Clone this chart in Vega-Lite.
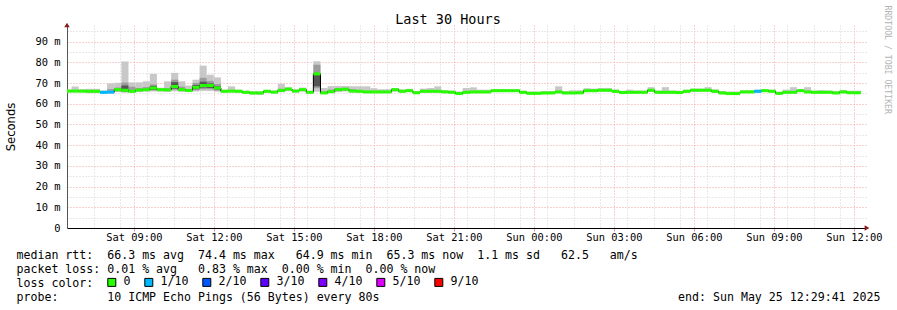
{
"$schema":"https://vega.github.io/schema/vega-lite/v6.json",
"width":800,"height":203,"autosize":"none",
"padding":{"left":67,"top":25,"right":30,"bottom":82},
"background":"#ffffff",
"title":{"text":"Last 30 Hours","font":"DejaVu Sans Mono","fontSize":13.5,"fontWeight":"normal","color":"#000000","anchor":"middle","baseline":"alphabetic","offset":-32,"dx":-19},
"datasets":{"ping":[
{"t":"2025-05-24T06:24Z","t2":"2025-05-24T06:40Z","m":66.1,"lo":65.4,"hi":66.9,"l":"0"},
{"t":"2025-05-24T06:40Z","t2":"2025-05-24T06:56Z","m":66.1,"lo":65.5,"hi":68.3,"l":"0"},
{"t":"2025-05-24T06:56Z","t2":"2025-05-24T07:12Z","m":66.1,"lo":65.4,"hi":67.0,"l":"0"},
{"t":"2025-05-24T07:12Z","t2":"2025-05-24T07:28Z","m":66.0,"lo":65.1,"hi":67.2,"a":65.5,"b":66.6,"l":"0"},
{"t":"2025-05-24T07:28Z","t2":"2025-05-24T07:44Z","m":66.0,"lo":65.1,"hi":67.2,"a":65.5,"b":66.6,"l":"0"},
{"t":"2025-05-24T07:44Z","t2":"2025-05-24T08:00Z","m":65.5,"lo":64.8,"hi":66.4,"l":"1/10"},
{"t":"2025-05-24T08:00Z","t2":"2025-05-24T08:16Z","m":65.6,"lo":64.9,"hi":69.8,"a":65.3,"b":67.0,"l":"1/10"},
{"t":"2025-05-24T08:16Z","t2":"2025-05-24T08:32Z","m":66.8,"lo":65.6,"hi":70.1,"a":66.0,"b":67.8,"l":"0"},
{"t":"2025-05-24T08:32Z","t2":"2025-05-24T08:48Z","m":66.5,"lo":65.3,"hi":80.4,"a":65.8,"b":70.2,"c":66.0,"d":68.8,"l":"0"},
{"t":"2025-05-24T08:48Z","t2":"2025-05-24T09:04Z","m":66.0,"lo":65.3,"hi":70.3,"a":65.6,"b":68.2,"l":"0"},
{"t":"2025-05-24T09:04Z","t2":"2025-05-24T09:20Z","m":66.6,"lo":65.6,"hi":70.3,"a":66.0,"b":67.6,"l":"0"},
{"t":"2025-05-24T09:20Z","t2":"2025-05-24T09:36Z","m":66.8,"lo":65.8,"hi":70.8,"a":66.2,"b":68.0,"l":"0"},
{"t":"2025-05-24T09:36Z","t2":"2025-05-24T09:52Z","m":67.6,"lo":65.9,"hi":74.4,"a":66.4,"b":69.3,"c":66.8,"d":68.6,"l":"0"},
{"t":"2025-05-24T09:52Z","t2":"2025-05-24T10:08Z","m":66.8,"lo":65.8,"hi":67.7,"l":"0"},
{"t":"2025-05-24T10:08Z","t2":"2025-05-24T10:24Z","m":66.7,"lo":65.7,"hi":70.8,"a":66.2,"b":67.6,"l":"0"},
{"t":"2025-05-24T10:24Z","t2":"2025-05-24T10:40Z","m":68.3,"lo":66.0,"hi":74.9,"a":66.8,"b":71.6,"c":67.3,"d":70.4,"l":"0"},
{"t":"2025-05-24T10:40Z","t2":"2025-05-24T10:56Z","m":66.8,"lo":65.7,"hi":70.8,"a":66.2,"b":68.2,"l":"0"},
{"t":"2025-05-24T10:56Z","t2":"2025-05-24T11:12Z","m":66.4,"lo":65.6,"hi":68.8,"l":"0"},
{"t":"2025-05-24T11:12Z","t2":"2025-05-24T11:28Z","m":67.9,"lo":65.9,"hi":71.6,"a":66.5,"b":70.0,"c":67.0,"d":69.0,"l":"0"},
{"t":"2025-05-24T11:28Z","t2":"2025-05-24T11:44Z","m":68.8,"lo":66.2,"hi":78.4,"a":67.0,"b":72.5,"c":67.8,"d":70.6,"l":"0"},
{"t":"2025-05-24T11:44Z","t2":"2025-05-24T12:00Z","m":68.8,"lo":66.1,"hi":74.0,"a":67.0,"b":71.0,"c":67.6,"d":69.8,"l":"0"},
{"t":"2025-05-24T12:00Z","t2":"2025-05-24T12:16Z","m":67.6,"lo":65.8,"hi":72.7,"a":66.4,"b":69.5,"c":66.8,"d":68.4,"l":"0"},
{"t":"2025-05-24T12:16Z","t2":"2025-05-24T12:32Z","m":66.0,"lo":65.4,"hi":66.8,"l":"0"},
{"t":"2025-05-24T12:32Z","t2":"2025-05-24T12:48Z","m":66.1,"lo":65.4,"hi":68.4,"l":"0"},
{"t":"2025-05-24T12:48Z","t2":"2025-05-24T13:04Z","m":66.0,"lo":65.3,"hi":66.8,"l":"0"},
{"t":"2025-05-24T13:04Z","t2":"2025-05-24T13:20Z","m":65.5,"lo":64.9,"hi":66.3,"l":"0"},
{"t":"2025-05-24T13:20Z","t2":"2025-05-24T13:36Z","m":65.2,"lo":64.4,"hi":66.0,"l":"0"},
{"t":"2025-05-24T13:36Z","t2":"2025-05-24T13:52Z","m":65.2,"lo":64.2,"hi":66.0,"l":"0"},
{"t":"2025-05-24T13:52Z","t2":"2025-05-24T14:08Z","m":66.0,"lo":65.2,"hi":66.7,"l":"0"},
{"t":"2025-05-24T14:08Z","t2":"2025-05-24T14:24Z","m":65.6,"lo":64.9,"hi":66.4,"l":"0"},
{"t":"2025-05-24T14:24Z","t2":"2025-05-24T14:40Z","m":66.4,"lo":65.5,"hi":69.6,"a":65.9,"b":67.2,"l":"0"},
{"t":"2025-05-24T14:40Z","t2":"2025-05-24T14:56Z","m":67.1,"lo":66.0,"hi":67.9,"l":"0"},
{"t":"2025-05-24T14:56Z","t2":"2025-05-24T15:12Z","m":66.1,"lo":65.4,"hi":66.9,"l":"0"},
{"t":"2025-05-24T15:12Z","t2":"2025-05-24T15:28Z","m":66.8,"lo":65.8,"hi":67.8,"l":"0"},
{"t":"2025-05-24T15:28Z","t2":"2025-05-24T15:44Z","m":65.5,"lo":64.9,"hi":66.3,"l":"0"},
{"t":"2025-05-24T15:44Z","t2":"2025-05-24T16:00Z","m":74.4,"lo":65.8,"hi":80.5,"a":67.5,"b":78.8,"c":68.4,"d":74.2,"l":"0"},
{"t":"2025-05-24T16:00Z","t2":"2025-05-24T16:16Z","m":65.2,"lo":64.7,"hi":67.6,"a":65.0,"b":66.0,"l":"0"},
{"t":"2025-05-24T16:16Z","t2":"2025-05-24T16:32Z","m":65.8,"lo":65.2,"hi":68.5,"a":65.5,"b":66.8,"l":"0"},
{"t":"2025-05-24T16:32Z","t2":"2025-05-24T16:48Z","m":66.8,"lo":65.6,"hi":68.6,"a":66.1,"b":67.5,"l":"0"},
{"t":"2025-05-24T16:48Z","t2":"2025-05-24T17:04Z","m":67.0,"lo":65.9,"hi":68.5,"a":66.4,"b":67.7,"l":"0"},
{"t":"2025-05-24T17:04Z","t2":"2025-05-24T17:20Z","m":66.1,"lo":65.4,"hi":68.4,"a":65.8,"b":67.0,"l":"0"},
{"t":"2025-05-24T17:20Z","t2":"2025-05-24T17:36Z","m":66.0,"lo":65.4,"hi":68.4,"l":"0"},
{"t":"2025-05-24T17:36Z","t2":"2025-05-24T17:52Z","m":65.7,"lo":65.1,"hi":68.4,"l":"0"},
{"t":"2025-05-24T17:52Z","t2":"2025-05-24T18:08Z","m":65.7,"lo":65.1,"hi":67.5,"l":"0"},
{"t":"2025-05-24T18:08Z","t2":"2025-05-24T18:24Z","m":65.7,"lo":65.1,"hi":67.0,"l":"0"},
{"t":"2025-05-24T18:24Z","t2":"2025-05-24T18:40Z","m":65.7,"lo":65.1,"hi":67.0,"l":"0"},
{"t":"2025-05-24T18:40Z","t2":"2025-05-24T18:56Z","m":66.8,"lo":65.8,"hi":67.5,"l":"0"},
{"t":"2025-05-24T18:56Z","t2":"2025-05-24T19:12Z","m":66.0,"lo":65.4,"hi":66.9,"l":"0"},
{"t":"2025-05-24T19:12Z","t2":"2025-05-24T19:28Z","m":66.3,"lo":65.6,"hi":67.2,"l":"0"},
{"t":"2025-05-24T19:28Z","t2":"2025-05-24T19:44Z","m":65.3,"lo":64.7,"hi":66.2,"l":"0"},
{"t":"2025-05-24T19:44Z","t2":"2025-05-24T20:00Z","m":66.0,"lo":65.3,"hi":67.3,"l":"0"},
{"t":"2025-05-24T20:00Z","t2":"2025-05-24T20:16Z","m":66.0,"lo":65.3,"hi":67.6,"l":"0"},
{"t":"2025-05-24T20:16Z","t2":"2025-05-24T20:32Z","m":66.0,"lo":65.3,"hi":68.4,"l":"0"},
{"t":"2025-05-24T20:32Z","t2":"2025-05-24T20:48Z","m":65.7,"lo":65.1,"hi":66.6,"l":"0"},
{"t":"2025-05-24T20:48Z","t2":"2025-05-24T21:04Z","m":65.5,"lo":64.9,"hi":66.4,"l":"0"},
{"t":"2025-05-24T21:04Z","t2":"2025-05-24T21:20Z","m":64.9,"lo":64.3,"hi":65.9,"l":"0"},
{"t":"2025-05-24T21:20Z","t2":"2025-05-24T21:36Z","m":65.5,"lo":64.9,"hi":67.6,"l":"0"},
{"t":"2025-05-24T21:36Z","t2":"2025-05-24T21:52Z","m":65.7,"lo":65.1,"hi":67.9,"l":"0"},
{"t":"2025-05-24T21:52Z","t2":"2025-05-24T22:08Z","m":65.7,"lo":65.1,"hi":66.8,"l":"0"},
{"t":"2025-05-24T22:08Z","t2":"2025-05-24T22:24Z","m":65.7,"lo":65.1,"hi":66.8,"l":"0"},
{"t":"2025-05-24T22:24Z","t2":"2025-05-24T22:40Z","m":66.3,"lo":65.6,"hi":67.1,"l":"0"},
{"t":"2025-05-24T22:40Z","t2":"2025-05-24T22:56Z","m":66.3,"lo":65.6,"hi":67.1,"l":"0"},
{"t":"2025-05-24T22:56Z","t2":"2025-05-24T23:12Z","m":66.3,"lo":65.6,"hi":67.0,"l":"0"},
{"t":"2025-05-24T23:12Z","t2":"2025-05-24T23:28Z","m":66.3,"lo":65.6,"hi":67.0,"l":"0"},
{"t":"2025-05-24T23:28Z","t2":"2025-05-24T23:44Z","m":65.5,"lo":64.9,"hi":66.3,"l":"0"},
{"t":"2025-05-24T23:44Z","t2":"2025-05-25T00:00Z","m":65.0,"lo":64.3,"hi":65.9,"l":"0"},
{"t":"2025-05-25T00:00Z","t2":"2025-05-25T00:16Z","m":65.0,"lo":64.4,"hi":65.9,"l":"0"},
{"t":"2025-05-25T00:16Z","t2":"2025-05-25T00:32Z","m":65.2,"lo":64.6,"hi":66.1,"l":"0"},
{"t":"2025-05-25T00:32Z","t2":"2025-05-25T00:48Z","m":65.2,"lo":64.6,"hi":66.1,"l":"0"},
{"t":"2025-05-25T00:48Z","t2":"2025-05-25T01:04Z","m":65.7,"lo":65.0,"hi":68.4,"l":"0"},
{"t":"2025-05-25T01:04Z","t2":"2025-05-25T01:20Z","m":65.2,"lo":64.6,"hi":66.1,"l":"0"},
{"t":"2025-05-25T01:20Z","t2":"2025-05-25T01:36Z","m":65.2,"lo":64.6,"hi":66.5,"l":"0"},
{"t":"2025-05-25T01:36Z","t2":"2025-05-25T01:52Z","m":65.3,"lo":64.6,"hi":66.5,"l":"0"},
{"t":"2025-05-25T01:52Z","t2":"2025-05-25T02:08Z","m":66.3,"lo":65.6,"hi":67.5,"l":"0"},
{"t":"2025-05-25T02:08Z","t2":"2025-05-25T02:24Z","m":66.3,"lo":65.6,"hi":67.3,"l":"0"},
{"t":"2025-05-25T02:24Z","t2":"2025-05-25T02:40Z","m":66.5,"lo":65.7,"hi":67.6,"l":"0"},
{"t":"2025-05-25T02:40Z","t2":"2025-05-25T02:56Z","m":66.5,"lo":65.7,"hi":67.6,"l":"0"},
{"t":"2025-05-25T02:56Z","t2":"2025-05-25T03:12Z","m":66.0,"lo":65.3,"hi":66.8,"l":"0"},
{"t":"2025-05-25T03:12Z","t2":"2025-05-25T03:28Z","m":65.4,"lo":64.8,"hi":66.3,"l":"0"},
{"t":"2025-05-25T03:28Z","t2":"2025-05-25T03:44Z","m":65.5,"lo":64.9,"hi":66.8,"l":"0"},
{"t":"2025-05-25T03:44Z","t2":"2025-05-25T04:00Z","m":65.5,"lo":64.9,"hi":66.4,"l":"0"},
{"t":"2025-05-25T04:00Z","t2":"2025-05-25T04:16Z","m":65.5,"lo":64.9,"hi":66.4,"l":"0"},
{"t":"2025-05-25T04:16Z","t2":"2025-05-25T04:32Z","m":66.5,"lo":65.7,"hi":68.0,"l":"0"},
{"t":"2025-05-25T04:32Z","t2":"2025-05-25T04:48Z","m":65.5,"lo":64.9,"hi":66.4,"l":"0"},
{"t":"2025-05-25T04:48Z","t2":"2025-05-25T05:04Z","m":65.5,"lo":64.9,"hi":68.0,"l":"0"},
{"t":"2025-05-25T05:04Z","t2":"2025-05-25T05:20Z","m":65.5,"lo":64.9,"hi":66.4,"l":"0"},
{"t":"2025-05-25T05:20Z","t2":"2025-05-25T05:36Z","m":65.4,"lo":64.8,"hi":66.3,"l":"0"},
{"t":"2025-05-25T05:36Z","t2":"2025-05-25T05:52Z","m":66.0,"lo":65.3,"hi":66.8,"l":"0"},
{"t":"2025-05-25T05:52Z","t2":"2025-05-25T06:08Z","m":66.5,"lo":65.8,"hi":67.3,"l":"0"},
{"t":"2025-05-25T06:08Z","t2":"2025-05-25T06:24Z","m":66.5,"lo":65.8,"hi":67.3,"l":"0"},
{"t":"2025-05-25T06:24Z","t2":"2025-05-25T06:40Z","m":66.5,"lo":65.8,"hi":68.0,"l":"0"},
{"t":"2025-05-25T06:40Z","t2":"2025-05-25T06:56Z","m":66.0,"lo":65.3,"hi":66.9,"l":"0"},
{"t":"2025-05-25T06:56Z","t2":"2025-05-25T07:12Z","m":65.2,"lo":64.6,"hi":66.2,"l":"0"},
{"t":"2025-05-25T07:12Z","t2":"2025-05-25T07:28Z","m":64.9,"lo":64.2,"hi":65.9,"l":"0"},
{"t":"2025-05-25T07:28Z","t2":"2025-05-25T07:44Z","m":64.9,"lo":64.3,"hi":65.9,"l":"0"},
{"t":"2025-05-25T07:44Z","t2":"2025-05-25T08:00Z","m":65.7,"lo":65.1,"hi":66.5,"l":"0"},
{"t":"2025-05-25T08:00Z","t2":"2025-05-25T08:16Z","m":65.7,"lo":65.1,"hi":66.5,"l":"0"},
{"t":"2025-05-25T08:16Z","t2":"2025-05-25T08:32Z","m":66.0,"lo":65.3,"hi":66.8,"l":"1/10"},
{"t":"2025-05-25T08:32Z","t2":"2025-05-25T08:48Z","m":66.3,"lo":65.6,"hi":67.1,"l":"0"},
{"t":"2025-05-25T08:48Z","t2":"2025-05-25T09:04Z","m":66.0,"lo":65.4,"hi":66.8,"l":"0"},
{"t":"2025-05-25T09:04Z","t2":"2025-05-25T09:20Z","m":65.0,"lo":64.4,"hi":65.8,"l":"0"},
{"t":"2025-05-25T09:20Z","t2":"2025-05-25T09:36Z","m":65.5,"lo":64.9,"hi":66.8,"l":"0"},
{"t":"2025-05-25T09:36Z","t2":"2025-05-25T09:52Z","m":65.5,"lo":64.9,"hi":68.0,"l":"0"},
{"t":"2025-05-25T09:52Z","t2":"2025-05-25T10:08Z","m":66.3,"lo":65.6,"hi":67.1,"l":"0"},
{"t":"2025-05-25T10:08Z","t2":"2025-05-25T10:24Z","m":65.7,"lo":65.1,"hi":68.0,"l":"0"},
{"t":"2025-05-25T10:24Z","t2":"2025-05-25T10:40Z","m":65.5,"lo":64.9,"hi":66.4,"l":"0"},
{"t":"2025-05-25T10:40Z","t2":"2025-05-25T10:56Z","m":65.5,"lo":64.9,"hi":66.6,"l":"0"},
{"t":"2025-05-25T10:56Z","t2":"2025-05-25T11:12Z","m":65.5,"lo":64.9,"hi":66.4,"l":"0"},
{"t":"2025-05-25T11:12Z","t2":"2025-05-25T11:28Z","m":65.2,"lo":64.6,"hi":66.1,"l":"0"},
{"t":"2025-05-25T11:28Z","t2":"2025-05-25T11:44Z","m":65.7,"lo":65.1,"hi":66.6,"l":"0"},
{"t":"2025-05-25T11:44Z","t2":"2025-05-25T12:00Z","m":65.3,"lo":64.7,"hi":66.3,"l":"0"},
{"t":"2025-05-25T12:00Z","t2":"2025-05-25T12:16Z","m":65.3,"lo":64.7,"hi":66.3,"l":"0"}
]},
"data":{"name":"ping"},
"resolve":{"axis":{"x":"independent","y":"independent"}},
"layer":[
{"mark":{"type":"rect","color":"#c8c8c8","clip":true},
 "encoding":{
  "x":{"field":"t","type":"temporal",
   "scale":{"type":"utc","nice":false,"domain":[{"year":2025,"month":5,"date":24,"hours":6,"minutes":29,"seconds":41,"utc":true},{"year":2025,"month":5,"date":25,"hours":12,"minutes":29,"seconds":41,"utc":true}]},
   "axis":{"orient":"bottom","grid":true,"gridColor":"#d2d2d2","gridDash":[1,2],"gridWidth":1,
    "values":[1748068200000,1748071800000,1748075400000,1748079000000,1748082600000,1748086200000,1748089800000,1748093400000,1748097000000,1748100600000,1748104200000,1748107800000,1748111400000,1748115000000,1748118600000,1748122200000,1748125800000,1748129400000,1748133000000,1748136600000,1748140200000,1748143800000,1748147400000,1748151000000,1748154600000,1748158200000,1748161800000,1748165400000,1748169000000,1748172600000],
    "labels":false,"ticks":false,"domain":false,
    "title":"end: Sun May 25 12:29:41 2025","titleX":813,"titleY":72.6,"titleAlign":"right","titleAnchor":"end","titleBaseline":"alphabetic","titleFont":"DejaVu Sans Mono","titleFontSize":11.6,"titleFontWeight":"normal","titleColor":"#000000"}},
  "x2":{"field":"t2"},
  "y":{"field":"lo","type":"quantitative","scale":{"domain":[0,98],"nice":false,"zero":true},
   "axis":{"orient":"left","grid":true,"gridColor":"#d2d2d2","gridDash":[1,2],"gridWidth":1,"values":[5,15,25,35,45,55,65,75,85,95],"labels":false,"ticks":false,"domain":false,"title":null}},
  "y2":{"field":"hi"}}},
{"mark":{"type":"rect","color":"#9c9c9c","clip":true},
 "encoding":{
  "x":{"field":"t","type":"temporal",
   "axis":{"orient":"bottom","grid":true,"gridColor":"#f0a0a0","gridDash":[1,2],"gridWidth":1,"tickCount":"hour","labels":false,"ticks":true,"tickColor":"#e89090","tickSize":3,"domain":false,"title":null}},
  "x2":{"field":"t2"},
  "y":{"field":"a","type":"quantitative",
   "axis":{"orient":"left","grid":true,"gridColor":"#f0a0a0","gridDash":[1,2],"gridWidth":1,"values":[10,20,30,40,50,60,70,80,90],"labels":false,"ticks":false,"domain":false,"title":null}},
  "y2":{"field":"b"}}},
{"mark":{"type":"rect","color":"#555555","clip":true},
 "encoding":{
  "x":{"field":"t","type":"temporal","axis":null},
  "x2":{"field":"t2"},
  "y":{"field":"c","type":"quantitative","axis":null},
  "y2":{"field":"d"}}},
{"mark":{"type":"line","interpolate":"step-after","color":"#000000","strokeWidth":1,"clip":true},
 "encoding":{
  "x":{"field":"t","type":"temporal","axis":null},
  "y":{"field":"m","type":"quantitative","axis":null}}},
{"mark":{"type":"rule","strokeWidth":3,"clip":true},
 "encoding":{
  "x":{"field":"t","type":"temporal",
   "axis":{"orient":"bottom","grid":false,
    "values":[1748077200000,1748088000000,1748098800000,1748109600000,1748120400000,1748131200000,1748142000000,1748152800000,1748163600000,1748174400000],
    "labelExpr":"utcFormat(datum.value, '%a %H:%M')","labelFlush":false,"labelOverlap":false,"ticks":false,"labelPadding":4,"domain":true,"domainColor":"#000000","domainWidth":1,
    "title":["median rtt:\u00a0\u00a066.3 ms avg\u00a0\u00a074.4 ms max\u00a0\u00a0\u00a064.9 ms min\u00a0\u00a065.3 ms now\u00a0\u00a01.1 ms sd\u00a0\u00a0\u00a062.5\u00a0\u00a0\u00a0am/s","packet loss: 0.01 % avg\u00a0\u00a0\u00a00.83 % max\u00a0\u00a00.00 % min\u00a0\u00a00.00 % now","loss color:","probe:\u00a0\u00a0\u00a0\u00a0\u00a0\u00a0\u00a010 ICMP Echo Pings (56 Bytes) every 80s"],
    "titleX":-51,"titleY":30.6,"titleAlign":"left","titleAnchor":"start","titleBaseline":"alphabetic","titleLineHeight":14,"titleFont":"DejaVu Sans Mono","titleFontSize":11.6,"titleFontWeight":"normal","titleColor":"#000000"}},
  "x2":{"field":"t2"},
  "y":{"field":"m","type":"quantitative",
   "axis":{"orient":"left","grid":false,"values":[0,10,20,30,40,50,60,70,80,90],"labelExpr":"datum.value == 0 ? '0' : datum.value + ' m'","ticks":false,"labelPadding":7,"domain":true,"domainColor":"#555555",
    "title":"Seconds","titleX":-56,"titleY":101.5,"titleAngle":-90,"titleAlign":"center","titleBaseline":"middle","titleFont":"DejaVu Sans","titleFontSize":11.6,"titleFontWeight":"normal","titleColor":"#000000"}},
  "stroke":{"field":"l","type":"nominal",
   "scale":{"domain":["0","1/10"],"range":["#26ff00","#00b8ff"]},
   "legend":null}}},
{"mark":{"type":"rect","clip":true,"opacity":1},
 "encoding":{
  "x":{"field":"t","type":"temporal","axis":null},
  "x2":{"field":"t2"},
  "y":{"field":"m","type":"quantitative","axis":null},
  "y2":{"field":"m"},
  "color":{"field":"l","type":"nominal",
   "scale":{"domain":["0","1/10","2/10","3/10","4/10","5/10","9/10"],"range":["#26ff00","#00b8ff","#0059ff","#5e00ff","#7e00ff","#dd00ff","#ff0000"]},
   "legend":{"orient":"none","legendX":39,"legendY":251.5,"direction":"horizontal","title":null,"symbolType":"square","symbolSize":64,"symbolStrokeWidth":1,"symbolStrokeColor":"#000000","symbolOpacity":1,"labelFont":"DejaVu Sans Mono","labelFontSize":11.6,"labelColor":"#000000","labelOffset":6,"columnPadding":11,"padding":0}}}},
{"data":{"values":[{"t":"2025-05-24T06:29:41Z","v":98}]},
 "mark":{"type":"point","shape":"triangle-up","filled":true,"color":"#8b1a1a","opacity":1,"size":30,"clip":false},
 "encoding":{
  "x":{"field":"t","type":"temporal","axis":null},
  "y":{"field":"v","type":"quantitative",
   "axis":{"orient":"right","grid":false,"labels":false,"ticks":false,"domain":false,
    "title":"RRDTOOL / TOBI OETIKER","titleAngle":90,"titleX":19,"titleY":-20,"titleAlign":"left","titleBaseline":"middle","titleFont":"DejaVu Sans Mono","titleFontSize":8.2,"titleFontWeight":"normal","titleColor":"#b4b4b4"}}}},
{"data":{"values":[{"t":"2025-05-25T12:29:41Z","v":0}]},
 "mark":{"type":"point","shape":"triangle-right","filled":true,"color":"#8b1a1a","opacity":1,"size":30,"clip":false},
 "encoding":{
  "x":{"field":"t","type":"temporal","axis":null},
  "y":{"field":"v","type":"quantitative","axis":null}}}
],
"config":{"view":{"stroke":null},"axis":{"labelFont":"DejaVu Sans Mono","labelFontSize":10.4,"labelColor":"#000000","titleFont":"DejaVu Sans Mono","titleFontWeight":"normal","titleColor":"#000000"}}
}
